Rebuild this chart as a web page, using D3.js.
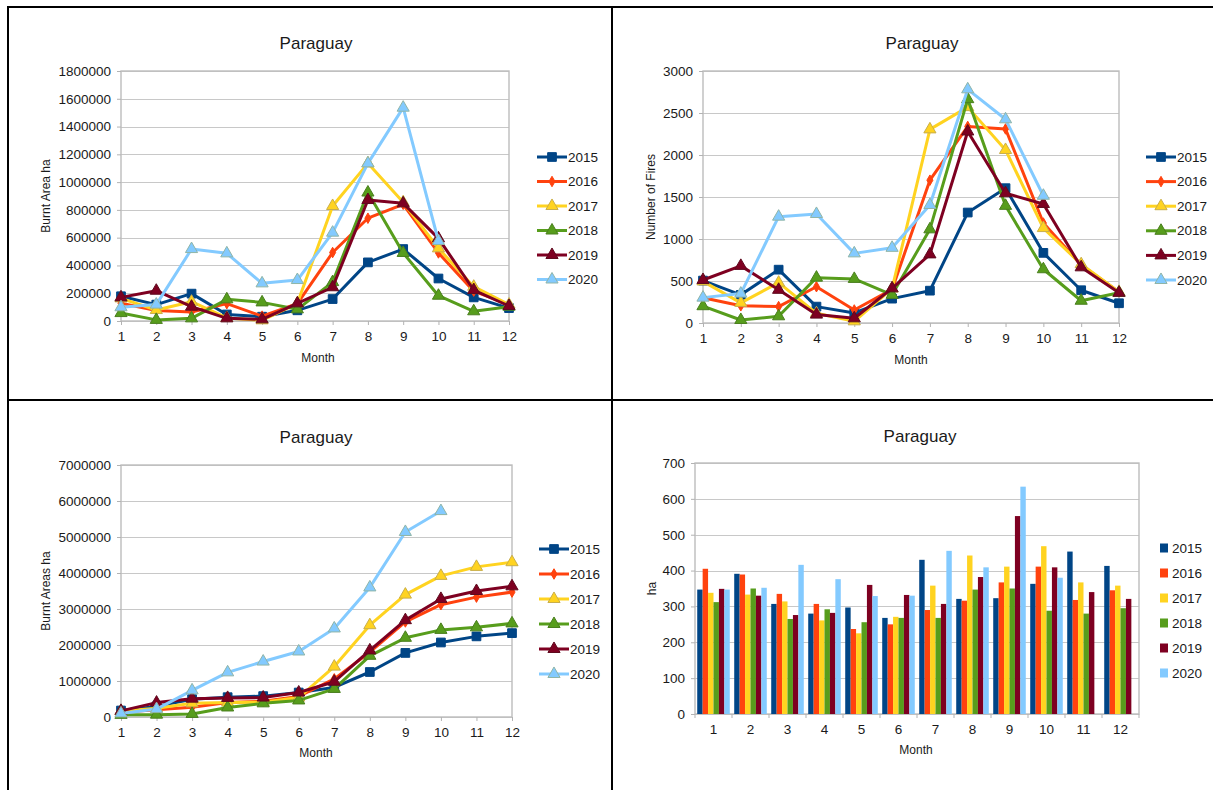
<!DOCTYPE html>
<html>
<head>
<meta charset="utf-8">
<script src="https://cdn.jsdelivr.net/npm/d3@7"></script>
<style>
  html, body { margin: 0; padding: 0; background: #fff; }
  text { font-family: "Liberation Sans", Arial, sans-serif; fill: #1a1a1a; }
</style>
</head>
<body>
<script>
// ---- data ----------------------------------------------------------------
const months = [1, 2, 3, 4, 5, 6, 7, 8, 9, 10, 11, 12];
const years = ["2015", "2016", "2017", "2018", "2019", "2020"];

// Monthly burnt area (ha), one row per year
const burntArea = [
  [178000, 118000, 197000, 47000, 31000, 77000, 158000, 422000, 518000, 306000, 170000, 93000],
  [128000, 75000, 65000, 125000, 35000, 125000, 493000, 740000, 840000, 490000, 215000, 118000],
  [163000, 79000, 139000, 22000, 5000, 127000, 828000, 1135000, 855000, 523000, 247000, 118000],
  [57000, 8000, 19000, 156000, 134000, 84000, 280000, 925000, 490000, 182000, 70000, 103000],
  [170000, 218000, 103000, 19000, 12000, 127000, 243000, 871000, 847000, 595000, 223000, 108000],
  [99000, 118000, 518000, 487000, 271000, 295000, 636000, 1135000, 1536000, 576000]
];

// Monthly number of fires
const fireCount = [
  [505, 335, 635, 195, 120, 290, 385, 1315, 1605, 835, 390, 235],
  [300, 205, 195, 432, 155, 400, 1700, 2340, 2310, 1190, 690, 370],
  [495, 240, 480, 115, 20, 410, 2305, 2570, 2060, 1130, 700, 370],
  [200, 36, 80, 540, 525, 335, 1115, 2665, 1395, 640, 265, 360],
  [512, 680, 395, 100, 56, 413, 817, 2280, 1545, 1417, 663, 360],
  [302, 350, 1266, 1298, 829, 895, 1405, 2782, 2425, 1515]
];

// Cumulative burnt area (ha)
const cumulativeArea = [
  [180000, 295000, 495000, 550000, 580000, 680000, 820000, 1250000, 1780000, 2070000, 2240000, 2330000],
  [130000, 200000, 270000, 400000, 440000, 570000, 1060000, 1800000, 2640000, 3120000, 3330000, 3470000],
  [160000, 240000, 380000, 400000, 410000, 540000, 1400000, 2550000, 3400000, 3920000, 4170000, 4300000],
  [60000, 65000, 85000, 265000, 380000, 460000, 780000, 1700000, 2200000, 2420000, 2490000, 2600000],
  [170000, 400000, 510000, 530000, 540000, 680000, 980000, 1850000, 2690000, 3280000, 3500000, 3630000],
  [100000, 220000, 740000, 1240000, 1540000, 1820000, 2460000, 3600000, 5140000, 5720000]
];

// Mean burnt area per fire (ha)
const areaPerFire = [
  [347, 391, 307, 280, 297, 268, 430, 321, 323, 363, 453, 413],
  [405, 389, 335, 307, 237, 250, 290, 316, 367, 411, 318, 345],
  [338, 333, 314, 261, 225, 271, 358, 442, 411, 468, 367, 358],
  [312, 350, 265, 292, 256, 268, 268, 347, 350, 288, 280, 295],
  [349, 330, 276, 282, 360, 332, 307, 382, 552, 409, 340, 321],
  [347, 352, 416, 376, 329, 330, 455, 409, 634, 380]
];

const areaTicks = [0, 200000, 400000, 600000, 800000, 1000000, 1200000, 1400000, 1600000, 1800000];
const fireTicks = [0, 500, 1000, 1500, 2000, 2500, 3000];
const cumulativeTicks = [0, 1000000, 2000000, 3000000, 4000000, 5000000, 6000000, 7000000];
const perFireTicks = [0, 100, 200, 300, 400, 500, 600, 700];

// ---- styling ---------------------------------------------------------------
const colors = ["#004586", "#ff420e", "#ffd320", "#579d1c", "#7e0021", "#83caff"];
const markerStroke = ["#004586", "#ff420e", "#c9ae4a", "#4a7f1e", "#5e0a1e", "#8fb5a8"];
const markerShapes = [d3.symbolSquare, d3.symbolDiamond, d3.symbolTriangle,
                      d3.symbolTriangle, d3.symbolTriangle, d3.symbolTriangle];
const markerSizes = [76, 32, 64, 64, 64, 64];
const gridColor = "#c8c8c8";

const W = 1213, H = 790;
const svg = d3.select("body").append("svg")
  .attr("width", W).attr("height", H)
  .style("display", "block");
svg.append("rect").attr("width", W).attr("height", H).attr("fill", "#fff");

// table frame around the four charts
const frame = svg.append("g").attr("stroke", "#000").attr("stroke-width", 2);
frame.append("line").attr("x1", 7).attr("x2", W).attr("y1", 7).attr("y2", 7);
frame.append("line").attr("x1", 8).attr("x2", 8).attr("y1", 6).attr("y2", H);
frame.append("line").attr("x1", 8).attr("x2", W).attr("y1", 400).attr("y2", 400);
frame.append("line").attr("x1", 612).attr("x2", 612).attr("y1", 6).attr("y2", H);

function frameAndTitles(g, o) {
  g.append("text").attr("x", o.titleX).attr("y", o.titleY)
    .attr("text-anchor", "middle").attr("dominant-baseline", "central")
    .style("font-size", "17px").text("Paraguay");
  g.append("text").attr("x", o.monthX).attr("y", o.monthY)
    .attr("text-anchor", "middle").attr("dominant-baseline", "central")
    .style("font-size", "12px").text("Month");
  g.append("text")
    .attr("transform", `translate(${o.yLabelX},${(o.top + o.bottom) / 2}) rotate(-90)`)
    .attr("text-anchor", "middle").attr("dominant-baseline", "central")
    .style("font-size", "12px").text(o.yLabel);
}

function styleAxis(axisG) {
  axisG.select(".domain").remove();
  axisG.selectAll(".tick line").attr("stroke", "#b3b3b3");
  axisG.selectAll(".tick text").style("font-size", "13.5px")
    .style("font-family", "'Liberation Sans', Arial, sans-serif").attr("fill", "#1a1a1a");
}

function gridAndFrame(g, o, y) {
  g.append("g").selectAll("line").data(o.yTicks).join("line")
    .attr("x1", o.left).attr("x2", o.right)
    .attr("y1", d => Math.round(y(d)) + 0.5).attr("y2", d => Math.round(y(d)) + 0.5)
    .attr("stroke", gridColor).attr("stroke-width", 1.2);
  g.append("rect")
    .attr("x", o.left).attr("y", o.top)
    .attr("width", o.right - o.left).attr("height", o.bottom - o.top)
    .attr("fill", "none").attr("stroke", "#bdbdbd").attr("stroke-width", 1.4);
}

function linePanel(o) {
  const g = svg.append("g");
  const x = d3.scaleLinear().domain([1, 12]).range([o.left, o.right]);
  const y = d3.scaleLinear().domain([0, o.yMax]).range([o.bottom, o.top]);

  gridAndFrame(g, o, y);

  const ya = g.append("g").attr("transform", `translate(${o.left},0)`)
    .call(d3.axisLeft(y).tickValues(o.yTicks).tickSize(4).tickPadding(6).tickFormat(d3.format("d")));
  styleAxis(ya);
  const xa = g.append("g").attr("transform", `translate(0,${o.bottom})`)
    .call(d3.axisBottom(x).tickValues(months).tickSize(4).tickPadding(6).tickFormat(d3.format("d")));
  styleAxis(xa);

  frameAndTitles(g, o);

  const line = d3.line().x((d, i) => x(months[i])).y(d => y(d));
  o.values.forEach((series, k) => {
    const s = g.append("g");
    s.append("path").datum(series).attr("d", line)
      .attr("fill", "none").attr("stroke", colors[k]).attr("stroke-width", 3)
      .attr("stroke-linejoin", "round");
    s.selectAll("path.mk").data(series).join("path").attr("class", "mk")
      .attr("transform", (d, i) => `translate(${x(months[i])},${y(d)})`)
      .attr("d", d3.symbol().type(markerShapes[k]).size(markerSizes[k]))
      .attr("fill", colors[k]).attr("stroke", markerStroke[k]).attr("stroke-width", 1);
  });

  // legend
  const lg = g.append("g");
  years.forEach((yr, k) => {
    const ly = o.legendY + k * o.legendStep;
    lg.append("line").attr("x1", o.legendX).attr("x2", o.legendX + 30)
      .attr("y1", ly).attr("y2", ly).attr("stroke", colors[k]).attr("stroke-width", 3);
    lg.append("path").attr("transform", `translate(${o.legendX + 15},${ly})`)
      .attr("d", d3.symbol().type(markerShapes[k]).size(markerSizes[k]))
      .attr("fill", colors[k]).attr("stroke", markerStroke[k]).attr("stroke-width", 1);
    lg.append("text").attr("x", o.legendX + 31).attr("y", ly)
      .attr("dominant-baseline", "central").style("font-size", "13.5px").text(yr);
  });
}

function barPanel(o) {
  const g = svg.append("g");
  const x = d3.scaleBand().domain(months).range([o.left, o.right]).padding(0);
  const xi = d3.scaleBand().domain(years).range([0, x.bandwidth()])
    .paddingInner(0).paddingOuter(0.41);
  const y = d3.scaleLinear().domain([0, o.yMax]).range([o.bottom, o.top]);

  gridAndFrame(g, o, y);

  const ya = g.append("g").attr("transform", `translate(${o.left},0)`)
    .call(d3.axisLeft(y).tickValues(o.yTicks).tickSize(4).tickPadding(6));
  styleAxis(ya);

  // category labels centred in each band, tick marks on the band edges
  const xa = g.append("g").attr("transform", `translate(0,${o.bottom})`)
    .call(d3.axisBottom(x).tickSize(0).tickPadding(10));
  styleAxis(xa);
  const edges = months.map(m => x(m)).concat([o.right]);
  g.append("g").selectAll("line").data(edges).join("line")
    .attr("x1", d => d).attr("x2", d => d)
    .attr("y1", o.bottom).attr("y2", o.bottom + 4)
    .attr("stroke", "#b3b3b3");

  frameAndTitles(g, o);

  o.values.forEach((series, k) => {
    g.append("g").selectAll("rect").data(series).join("rect")
      .attr("x", (d, i) => x(months[i]) + xi(years[k]))
      .attr("width", xi.bandwidth())
      .attr("y", d => y(d))
      .attr("height", d => y(0) - y(d))
      .attr("fill", colors[k]);
  });

  const lg = g.append("g");
  years.forEach((yr, k) => {
    const ly = o.legendY + k * o.legendStep;
    lg.append("rect").attr("x", o.legendX).attr("y", ly - 4.5)
      .attr("width", 8).attr("height", 9).attr("fill", colors[k]);
    lg.append("text").attr("x", o.legendX + 12).attr("y", ly)
      .attr("dominant-baseline", "central").style("font-size", "13.5px").text(yr);
  });
}

linePanel({
  values: burntArea, yMax: 1800000, yTicks: areaTicks, yLabel: "Burnt Area ha",
  left: 121, right: 509, top: 71, bottom: 321,
  titleX: 316, titleY: 43, monthX: 318, monthY: 358, yLabelX: 46,
  legendX: 537, legendY: 157, legendStep: 24.5
});

linePanel({
  values: fireCount, yMax: 3000, yTicks: fireTicks, yLabel: "Number of Fires",
  left: 703, right: 1119, top: 71, bottom: 323,
  titleX: 922, titleY: 43, monthX: 911, monthY: 360, yLabelX: 651,
  legendX: 1146, legendY: 157, legendStep: 24.6
});

linePanel({
  values: cumulativeArea, yMax: 7000000, yTicks: cumulativeTicks, yLabel: "Burnt Areas ha",
  left: 121, right: 512, top: 465, bottom: 717,
  titleX: 316, titleY: 437, monthX: 316, monthY: 753, yLabelX: 46,
  legendX: 539, legendY: 549, legendStep: 25
});

barPanel({
  values: areaPerFire, yMax: 700, yTicks: perFireTicks, yLabel: "ha",
  left: 695, right: 1139, top: 463, bottom: 714,
  titleX: 920, titleY: 436, monthX: 916, monthY: 750, yLabelX: 652,
  legendX: 1160, legendY: 548, legendStep: 25
});
</script>
</body>
</html>
